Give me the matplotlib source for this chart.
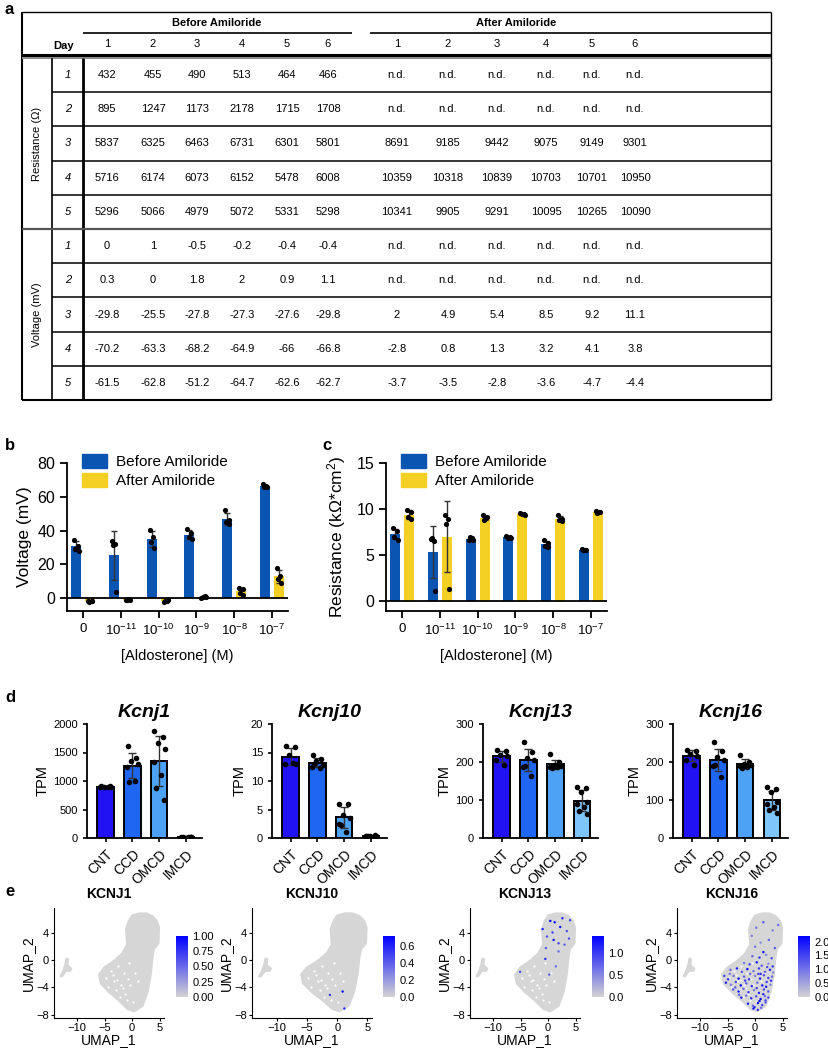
import matplotlib
matplotlib.use('Agg')
import matplotlib.pyplot as plt
import numpy as np
from matplotlib.colors import LinearSegmentedColormap, Normalize
from matplotlib.patches import Patch, Polygon
import matplotlib.cm as cm

plt.rcParams['font.family'] = ['Liberation Sans', 'DejaVu Sans']
plt.rcParams['mathtext.default'] = 'regular'

W, H = 829, 1050

# ---------------------------------------------------------------- data: panel a (table)
table_days = ['1', '2', '3', '4', '5']
table_cols = ['1', '2', '3', '4', '5', '6']
res_before = [[432, 455, 490, 513, 464, 466],
              [895, 1247, 1173, 2178, 1715, 1708],
              [5837, 6325, 6463, 6731, 6301, 5801],
              [5716, 6174, 6073, 6152, 5478, 6008],
              [5296, 5066, 4979, 5072, 5331, 5298]]
res_after = [None,
             None,
             [8691, 9185, 9442, 9075, 9149, 9301],
             [10359, 10318, 10839, 10703, 10701, 10950],
             [10341, 9905, 9291, 10095, 10265, 10090]]
volt_before = [[0, 1, -0.5, -0.2, -0.4, -0.4],
               [0.3, 0, 1.8, 2, 0.9, 1.1],
               [-29.8, -25.5, -27.8, -27.3, -27.6, -29.8],
               [-70.2, -63.3, -68.2, -64.9, -66, -66.8],
               [-61.5, -62.8, -51.2, -64.7, -62.6, -62.7]]
volt_after = [None,
              None,
              [2, 4.9, 5.4, 8.5, 9.2, 11.1],
              [-2.8, 0.8, 1.3, 3.2, 4.1, 3.8],
              [-3.7, -3.5, -2.8, -3.6, -4.7, -4.4]]

# ---------------------------------------------------------------- data: panels b, c
conc_labels = ['0', r'10$^{-11}$', r'10$^{-10}$', r'10$^{-9}$', r'10$^{-8}$', r'10$^{-7}$']
volt_pts_before = [[34.5, 31, 29, 28], [34, 32, 31.5, 3.5], [40.5, 36, 33, 29.5],
                   [41, 38.5, 36, 35], [52, 46.5, 45, 44], [67.5, 66.5, 66, 65.8]]
volt_pts_after = [[-2.0, -1.5, -2.2, -1.8], [-1.0, -0.8, -1.1, -1.2], [-2.5, -1.5, -2.0, -1.2],
                  [0.0, 1.0, 0.5, 0.3], [6.0, 5.5, 3.0, 2.0], [18, 13, 11, 9]]
res_pts_before = [[7.9, 7.6, 7.0, 6.6], [6.7, 6.5, 6.9, 1.1], [6.6, 6.8, 7.0, 6.6],
                  [7.1, 7.0, 6.8, 6.9], [6.6, 6.3, 6.0, 5.9], [5.6, 5.5, 5.5, 5.5]]
res_pts_after = [[9.9, 9.7, 9.1, 8.9], [9.4, 8.9, 8.4, 1.3], [9.3, 9.0, 8.8, 9.1],
                 [9.6, 9.5, 9.5, 9.4], [9.3, 8.9, 8.8, 8.7], [9.8, 9.7, 9.6, 9.7]]

# ---------------------------------------------------------------- data: panel d
segments = ['CNT', 'CCD', 'OMCD', 'IMCD']
kcnj1_pts = [[920, 910, 900, 895, 890, 890],
             [1620, 1400, 1350, 1300, 1250, 1000, 980],
             [1870, 1780, 1660, 1560, 1340, 1100, 880, 670],
             [10, 15, 8, 12, 5, 20, 10, 10]]
kcnj10_pts = [[16.1, 16.0, 14.5, 13.0, 12.9, 13.1],
              [14.5, 13.8, 13.5, 12.8, 12.5, 12.3, 12.9],
              [6.0, 5.9, 4.0, 3.5, 2.5, 1.0, 2.3],
              [0.4, 0.5, 0.3, 0.2, 0.3, 0.1, 0.4, 0.3]]
kcnj13_pts = [[231, 228, 218, 215, 205, 191],
              [253, 227, 211, 205, 188, 162, 190],
              [220, 199, 192, 190, 188, 186, 184],
              [134, 132, 122, 94, 89, 81, 72, 64]]
kcnj16_pts = [[232, 228, 220, 216, 206, 193],
              [252, 228, 212, 206, 190, 161, 192],
              [219, 200, 194, 192, 189, 187, 185],
              [133, 130, 121, 96, 90, 82, 74, 66]]

# ---------------------------------------------------------------- data: panel e (UMAP)
umap_main_x = [0.0, 1.3, 2.6, 3.7, 4.5, 4.9, 4.8, 4.0, 3.7, 3.4, 2.8, 1.9, 0.4, -0.8,
               -2.3, -4.2, -5.7, -6.0, -5.1, -3.3, -1.8, -0.9, -1.1, -0.6]
umap_main_y = [6.6, 6.9, 6.9, 6.5, 5.8, 4.8, 2.5, 1.7, 0.4, -2.1, -4.7, -6.7, -7.5, -7.2,
               -6.0, -4.7, -3.4, -2.1, -1.1, -0.1, 1.0, 2.3, 4.6, 5.8]
umap_isle_x = [-13.1, -12.6, -12.2, -12.0, -11.6, -11.7, -11.0, -11.2, -12.0, -12.7]
umap_isle_y = [-2.4, -1.6, -0.6, 0.3, 0.2, -0.7, -1.2, -1.6, -1.6, -2.4]
# gaps (cells missing) inside the grey cloud
umap_hole_x = [-4.8, -3.9, -2.6, -1.5, -3.2, -2.0, -0.8, -4.3, -2.9, -1.2, -0.3, 0.5,
               -2.2, -1.0, -3.5, 0.1, -1.7, -0.5, 1.0, -2.7]
umap_hole_y = [-2.6, -1.6, -0.8, -1.9, -3.1, -3.6, -2.7, -3.9, -4.4, -4.9, -3.6, -1.8,
               -5.4, -5.8, -2.2, -6.1, -4.1, -0.4, -3.0, -2.9]

kcnj10_x = [0.9, -1.2, 1.2]
kcnj10_y = [-4.6, -5.1, -7.1]
kcnj10_v = [0.72, 0.55, 0.6]

kcnj13_x = [-1.0, 1.2, 3.4, 1.9, 1.0, 3.0, -0.5, -0.2, 4.0, 0.4, 1.9, -5.1, 0.2, 2.6, 0.8,
            3.8, 2.2, -0.4, 1.4]
kcnj13_y = [4.6, 5.6, 4.3, 2.5, 3.0, 2.3, 0.2, 3.5, 5.9, 5.8, 1.3, -1.7, -2.1, 6.2, 4.1,
            3.2, 4.9, 1.8, -0.9]
kcnj13_v = [1.2, 1.4, 0.9, 1.0, 1.3, 0.8, 1.1, 0.9, 1.0, 1.4, 0.7, 0.9, 0.8, 1.2, 1.0,
            0.9, 1.3, 0.8, 0.7]

kcnj16_x = [-0.5, 0.8, 2.0, 3.0, 1.5, -2.0, -1.0, 0.3, 1.2, 2.4, 3.2, -4.5, -3.3, -2.4,
            -1.4, -0.3, 0.7, 1.8, 2.7, 3.3, -5.6, -4.9, -3.9, -3.0, -2.0, -1.1, 0.0, 0.9,
            1.6, 2.4, 3.1, -5.3, -4.4, -3.5, -2.6, -1.6, -0.6, 0.4, 1.3, 2.1, 2.8, -4.0,
            -3.0, -2.1, -1.2, -0.2, 0.7, 1.6, 2.4, -2.5, -1.6, -0.7, 0.2, 1.0, 1.8, 2.4,
            -1.3, -0.4, 0.5, 1.3, 1.9, -0.3, 0.5, 1.1, 0.2, 1.5, 3.2, 2.5, 4.2, 1.0, 3.6,
            0.0, -0.6, 1.0, 2.0, 0.3, -0.9, 1.5, 2.2, -1.8, 0.8, -3.6, -4.6, 2.9, -0.1,
            1.9, -2.9, 0.6]
kcnj16_y = [0.6, 0.4, 0.8, 0.3, 1.2, -0.4, -0.6, -0.3, -0.8, -0.5, -0.9, -1.4, -1.2, -1.7,
            -1.3, -1.6, -1.2, -1.7, -1.4, -1.8, -2.3, -2.8, -2.3, -2.7, -2.4, -2.8, -2.3,
            -2.7, -2.2, -2.6, -2.4, -3.3, -3.6, -3.2, -3.7, -3.4, -3.8, -3.3, -3.7, -3.2,
            -3.6, -4.3, -4.6, -4.2, -4.7, -4.4, -4.8, -4.3, -4.6, -5.5, -5.2, -5.6, -5.3,
            -5.7, -5.3, -5.5, -6.4, -6.7, -6.3, -6.6, -6.2, -7.1, -7.3, -7.0, 4.8, 5.6,
            4.4, 3.0, 5.2, 2.6, 1.8, 2.0, 3.6, -2.0, -3.9, -4.1, -2.0, -5.0, -1.0, -3.0,
            -6.0, -4.0, -2.0, -3.0, -6.9, -5.9, -5.1, -2.0]
kcnj16_v = [1.2, 1.8, 0.9, 1.5, 2.1, 1.0, 1.6, 2.0, 1.3, 0.8, 1.7, 1.1, 1.9, 1.4, 2.2,
            1.0, 1.6, 1.2, 2.0, 0.9, 1.5, 1.8, 1.1, 2.1, 1.3, 1.7, 0.9, 2.0, 1.4, 1.6,
            1.2, 1.9, 1.0, 1.5, 2.2, 1.3, 1.8, 1.1, 2.0, 1.6, 0.9, 1.4, 2.1, 1.2, 1.7,
            1.0, 1.9, 1.5, 1.3, 2.0, 1.1, 1.8, 1.4, 2.2, 1.0, 1.6, 1.9, 1.2, 2.1, 1.5,
            1.3, 2.0, 1.7, 1.1, 1.0, 1.4, 0.9, 1.2, 1.1, 0.8, 1.3, 1.0, 0.9, 1.8, 2.0,
            1.5, 1.2, 1.9, 1.4, 1.6, 2.1, 1.3, 1.0, 1.7, 1.8, 1.5, 1.2, 1.6]

# ---------------------------------------------------------------- styling
blue = '#0b55b2'
yellow = '#f4cf24'
seg_colors = ['#2012f2', '#1f66f2', '#4ea2f6', '#7dc5fb']
jit4 = [-0.05, 0.04, -0.02, 0.06]
jit8 = [-0.18, 0.15, -0.05, 0.2, -0.2, 0.08, -0.12, 0.18]

fig = plt.figure(figsize=(W / 100, H / 100), dpi=100)


def px_axes(left, top, right, bottom):
    return fig.add_axes([left / W, 1 - bottom / H, (right - left) / W, (bottom - top) / H])


# overlay in pixel coordinates: table + panel letters
ax_t = fig.add_axes([0, 0, 1, 1])
ax_t.set_xlim(0, W)
ax_t.set_ylim(H, 0)
ax_t.axis('off')

for txt, (x, y) in zip('abcde', [(5, 2), (5, 438), (322, 438), (5, 690), (5, 884)]):
    ax_t.text(x, y, txt, fontsize=12, fontweight='bold', va='top', ha='left')

# ---------------------------------------------------------------- panel a: table
L, R, T, B = 22, 771, 12, 400
row_top, row_h = 58, 34.2
before_x = [107, 153, 197, 242, 287, 328]
after_x = [397, 448, 497, 546, 592, 635]
line = dict(color='black', solid_capstyle='butt')

ax_t.plot([L, R], [T, T], lw=1.0, **line)
ax_t.plot([L, L], [T, B], lw=1.5, **line)
ax_t.plot([R, R], [T, B], lw=1.0, **line)
ax_t.plot([L, R], [B, B], lw=1.5, **line)
ax_t.plot([83, 352], [33, 33], lw=1.2, **line)
ax_t.plot([370, R], [33, 33], lw=1.2, **line)
ax_t.plot([L, R], [54.5, 54.5], lw=2.2, **line)
ax_t.plot([L, R], [57.5, 57.5], lw=1.4, color='#8a8a8a', solid_capstyle='butt')
ax_t.plot([52, 52], [row_top, B], lw=1.2, **line)
ax_t.plot([83, 83], [row_top, B], lw=2.0, **line)
for i in range(1, 10):
    y = row_top + i * row_h
    if i == 5:
        ax_t.plot([L, R], [y, y], lw=1.6, color='#555555', solid_capstyle='butt')
    else:
        ax_t.plot([52, R], [y, y], lw=1.1, **line)

ax_t.text(217, 23, 'Before Amiloride', fontsize=8, fontweight='bold', ha='center', va='center')
ax_t.text(516, 23, 'After Amiloride', fontsize=8, fontweight='bold', ha='center', va='center')
ax_t.text(64, 46, 'Day', fontsize=8, fontweight='bold', ha='center', va='center')
for c, xb, xa in zip(table_cols, before_x, after_x):
    ax_t.text(xb, 44, c, fontsize=8, ha='center', va='center')
    ax_t.text(xa, 44, c, fontsize=8, ha='center', va='center')

ax_t.text(37, row_top + 2.5 * row_h, 'Resistance (Ω)', fontsize=8, rotation=90,
          ha='center', va='center')
ax_t.text(37, row_top + 7.5 * row_h, 'Voltage (mV)', fontsize=8, rotation=90,
          ha='center', va='center')

blocks = [(res_before, res_after), (volt_before, volt_after)]
for b_i, (bef, aft) in enumerate(blocks):
    for r_i, day in enumerate(table_days):
        yc = row_top + (b_i * 5 + r_i + 0.5) * row_h
        ax_t.text(68, yc, day, fontsize=8, style='italic', ha='center', va='center')
        for xb, v in zip(before_x, bef[r_i]):
            ax_t.text(xb, yc, '{:g}'.format(v), fontsize=8, ha='center', va='center')
        for k, xa in enumerate(after_x):
            s = 'n.d.' if aft[r_i] is None else '{:g}'.format(aft[r_i][k])
            ax_t.text(xa, yc, s, fontsize=8, ha='center', va='center')


# ---------------------------------------------------------------- panels b, c
def prism_axes(ax):
    for s in ('top', 'right'):
        ax.spines[s].set_visible(False)
    for s in ('left', 'bottom'):
        ax.spines[s].set_linewidth(1.3)
    ax.tick_params(width=1.3, length=5, direction='out')


def paired_bars(ax, before, after):
    x = np.arange(len(before))
    for pts, off, col in ((before, -0.185, blue), (after, 0.185, yellow)):
        means = [np.mean(p) for p in pts]
        sds = [np.std(p, ddof=1) for p in pts]
        ax.bar(x + off, means, width=0.26, color=col, zorder=2)
        ax.errorbar(x + off, means, yerr=sds, fmt='none', ecolor='#333333',
                    elinewidth=1.0, capsize=2.5, capthick=1.0, zorder=3)
        for xi, p in zip(x, pts):
            ax.scatter(xi + off + np.array(jit4), p, s=14, color='black', zorder=4,
                       linewidths=0)
    ax.axhline(0, color='black', lw=1.3, zorder=5)
    ax.set_xlim(-0.43, 5.43)
    ax.set_xticks(x)
    ax.set_xticklabels(conc_labels, fontsize=9.5)
    ax.set_xlabel('[Aldosterone] (M)', fontsize=10.5, labelpad=8)
    handles = [Patch(color=blue), Patch(color=yellow)]
    ax.legend(handles, ['Before Amiloride', 'After Amiloride'], loc='upper left',
              bbox_to_anchor=(0.07, 1.06), frameon=False, fontsize=11,
              handlelength=1.6, handleheight=1.0, handletextpad=0.6,
              labelspacing=0.25, borderpad=0, borderaxespad=0)
    prism_axes(ax)


ax_b = px_axes(67, 463, 288, 611)
paired_bars(ax_b, volt_pts_before, volt_pts_after)
ax_b.set_ylim(-7.7, 80)
ax_b.set_yticks([0, 20, 40, 60, 80])
ax_b.tick_params(axis='y', labelsize=11.5)
ax_b.set_ylabel('Voltage (mV)', fontsize=12.5, labelpad=4)

ax_c = px_axes(386, 463, 607, 611)
paired_bars(ax_c, res_pts_before, res_pts_after)
ax_c.set_ylim(-1.09, 15)
ax_c.set_yticks([0, 5, 10, 15])
ax_c.tick_params(axis='y', labelsize=11.5)
ax_c.set_ylabel(r'Resistance (k$\Omega$*cm$^2$)', fontsize=12.5, labelpad=6)


# ---------------------------------------------------------------- panel d
def tpm_panel(ax, pts, title, ymax, yticks):
    x = np.arange(len(segments))
    means = [np.mean(p) for p in pts]
    sds = [np.std(p, ddof=1) for p in pts]
    ax.bar(x, means, width=0.62, color=seg_colors, edgecolor='black', linewidth=1.4,
           zorder=2)
    ax.errorbar(x, means, yerr=sds, fmt='none', ecolor='#333333', elinewidth=1.0,
                capsize=3, capthick=1.0, zorder=3)
    for xi, p in zip(x, pts):
        ax.scatter(xi + np.array(jit8[:len(p)]), p, s=16, color='black', zorder=4,
                   linewidths=0)
    ax.set_xlim(-0.7, 3.6)
    ax.set_ylim(0, ymax)
    ax.set_yticks(yticks)
    ax.set_xticks(x)
    ax.set_xticklabels(segments, rotation=45, ha='right', rotation_mode='anchor',
                       fontsize=10)
    ax.tick_params(axis='y', labelsize=8, length=3, width=1.2)
    ax.tick_params(axis='x', length=3, width=1.2)
    for s in ('top', 'right'):
        ax.spines[s].set_visible(False)
    for s in ('left', 'bottom'):
        ax.spines[s].set_linewidth(1.3)
    ax.set_ylabel('TPM', fontsize=10.5, labelpad=3)
    ax.set_title(title, fontsize=14, fontweight='bold', style='italic', pad=5)


d_lefts = [87, 272, 483, 673]
d_sets = [(kcnj1_pts, 'Kcnj1', 2000, [0, 500, 1000, 1500, 2000]),
          (kcnj10_pts, 'Kcnj10', 20, [0, 5, 10, 15, 20]),
          (kcnj13_pts, 'Kcnj13', 300, [0, 100, 200, 300]),
          (kcnj16_pts, 'Kcnj16', 300, [0, 100, 200, 300])]
for left, (pts, title, ymax, yt) in zip(d_lefts, d_sets):
    ax = px_axes(left, 724, left + 115, 838)
    tpm_panel(ax, pts, title, ymax, yt)

# ---------------------------------------------------------------- panel e
seurat = LinearSegmentedColormap.from_list('seurat', ['#d3d3d3', '#0000ff'])
e_boxes = [(54, 164, 176), (252, 372, 383), (470, 580, 592), (677, 787, 798)]
e_sets = [('KCNJ1', [], [], [], 1.0, [0, 0.25, 0.5, 0.75, 1.0], '{:.2f}'),
          ('KCNJ10', kcnj10_x, kcnj10_y, kcnj10_v, 0.72, [0, 0.2, 0.4, 0.6], '{:.1f}'),
          ('KCNJ13', kcnj13_x, kcnj13_y, kcnj13_v, 1.4, [0, 0.5, 1.0], '{:.1f}'),
          ('KCNJ16', kcnj16_x, kcnj16_y, kcnj16_v, 2.2, [0, 0.5, 1.0, 1.5, 2.0], '{:.1f}')]
for (l, r, cbx), (title, ux, uy, uv, vmax, cticks, fmt) in zip(e_boxes, e_sets):
    ax = px_axes(l, 908, r, 1018)
    ax.add_patch(Polygon(np.column_stack([umap_main_x, umap_main_y]), closed=True,
                         facecolor='#d6d6d6', edgecolor='#d6d6d6', lw=1.5))
    ax.add_patch(Polygon(np.column_stack([umap_isle_x, umap_isle_y]), closed=True,
                         facecolor='#d6d6d6', edgecolor='#d6d6d6', lw=1.0))
    ax.scatter(umap_hole_x, umap_hole_y, s=2.5, color='white', linewidths=0, zorder=2)
    if len(ux):
        ax.scatter(ux, uy, c=uv, cmap=seurat, vmin=0, vmax=vmax, s=3, linewidths=0,
                   zorder=3)
    ax.set_xlim(-14.2, 5.8)
    ax.set_ylim(-8.5, 7.7)
    ax.set_xticks([-10, -5, 0, 5])
    ax.set_xticklabels(['\u221210', '\u22125', '0', '5'])
    ax.set_yticks([-8, -4, 0, 4])
    ax.set_yticklabels(['\u22128', '\u22124', '0', '4'])
    for s in ('top', 'right'):
        ax.spines[s].set_visible(False)
    for s in ('left', 'bottom'):
        ax.spines[s].set_linewidth(0.8)
    ax.tick_params(labelsize=8, length=2.5, width=0.8, pad=1)
    ax.set_xlabel('UMAP_1', fontsize=10, labelpad=0)
    ax.set_ylabel('UMAP_2', fontsize=10, labelpad=1)
    ax.set_title(title, fontsize=10, fontweight='bold', pad=7)

    cax = px_axes(cbx, 936, cbx + 12, 997)
    cb = fig.colorbar(cm.ScalarMappable(norm=Normalize(0, vmax), cmap=seurat), cax=cax)
    cb.outline.set_visible(False)
    cb.set_ticks(cticks)
    cb.set_ticklabels([fmt.format(t) for t in cticks])
    cb.ax.tick_params(labelsize=8, length=0, pad=3)

fig.savefig('out.png', dpi=100)
